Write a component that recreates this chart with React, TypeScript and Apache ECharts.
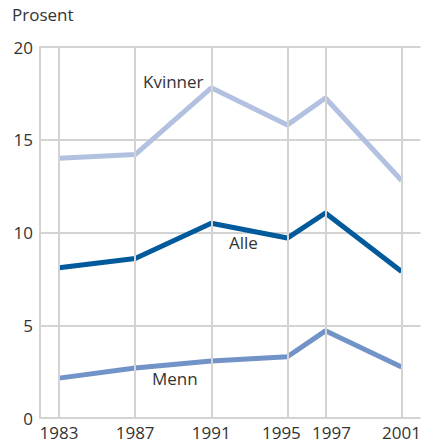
import React, { useEffect, useRef } from "react";
import * as echarts from "echarts";

const years = [1983, 1987, 1991, 1995, 1997, 2001];
const kvinner = [14.0, 14.2, 17.8, 15.8, 17.25, 12.8];
const alle = [8.1, 8.6, 10.5, 9.7, 11.05, 7.9];
const menn = [2.15, 2.7, 3.07, 3.3, 4.7, 2.75];
const yTicks = [0, 5, 10, 15, 20];

const FONT = "'Open Sans', 'Noto Sans', sans-serif";
const GRID = "#d3d3d3";

export default function App() {
  const ref = useRef<HTMLDivElement>(null);
  useEffect(() => {
    const chart = echarts.init(ref.current!, undefined, { renderer: "svg" });
    const pts = (arr: number[]) => years.map((y, i) => [y, arr[i]]);
    chart.setOption({
      animation: false,
      grid: { left: 40, right: 0, top: 47, bottom: 25, containLabel: false },
      xAxis: {
        type: "value",
        min: 1982,
        max: 2002,
        interval: 1,
        axisLine: { show: false },
        axisTick: { show: false },
        splitLine: { show: false },
        axisLabel: {
          color: "#333",
          fontSize: 17,
          fontFamily: FONT,
          margin: 6,
          formatter: (v: number) => {
            if (!years.includes(v)) return "";
            if (v === 1995) return "{l|" + v + "}";
            if (v === 1997) return "{r|" + v + "}";
            return String(v);
          },
          rich: {
            l: { padding: [0, 12, 0, 0], fontSize: 17, fontFamily: FONT, color: "#333" },
            r: { padding: [0, 0, 0, 12], fontSize: 17, fontFamily: FONT, color: "#333" },
          },
        },
      },
      yAxis: {
        type: "value",
        min: yTicks[0],
        max: yTicks[yTicks.length - 1],
        interval: 5,
        axisLine: { show: true, lineStyle: { color: GRID, width: 2 } },
        axisTick: { show: false },
        splitLine: { show: true, lineStyle: { color: GRID, width: 2 } },
        axisLabel: { color: "#333", fontSize: 17, fontFamily: FONT, margin: 7 },
      },
      graphic: [
        { type: "text", left: 12, top: 6, style: { text: "Prosent", fontSize: 17, fontFamily: FONT, fill: "#333" } },
        { type: "text", x: 143, y: 73, style: { text: "Kvinner", fontSize: 17, fontFamily: FONT, fill: "#333" } },
        { type: "text", x: 229, y: 234, style: { text: "Alle", fontSize: 17, fontFamily: FONT, fill: "#333" } },
        { type: "text", x: 152, y: 370, style: { text: "Menn", fontSize: 17, fontFamily: FONT, fill: "#333" } },
      ],
      series: [
        {
          type: "line",
          data: [],
          silent: true,
          markLine: {
            symbol: "none",
            silent: true,
            label: { show: false },
            lineStyle: { color: GRID, width: 2, type: "solid" },
            data: years.map((y) => ({ xAxis: y })),
          },
          z: 1,
        },
        { name: "Kvinner", type: "line", data: pts(kvinner), symbol: "none", lineStyle: { color: "#b3c1e1", width: 5 }, z: 3 },
        { name: "Alle", type: "line", data: pts(alle), symbol: "none", lineStyle: { color: "#005a9c", width: 5 }, z: 3 },
        { name: "Menn", type: "line", data: pts(menn), symbol: "none", lineStyle: { color: "#7193c8", width: 5 }, z: 3 },
      ],
    });
    return () => chart.dispose();
  }, []);
  return <div ref={ref} style={{ position: "absolute", left: 0, top: 0, width: 424, height: 443 }} />;
}
